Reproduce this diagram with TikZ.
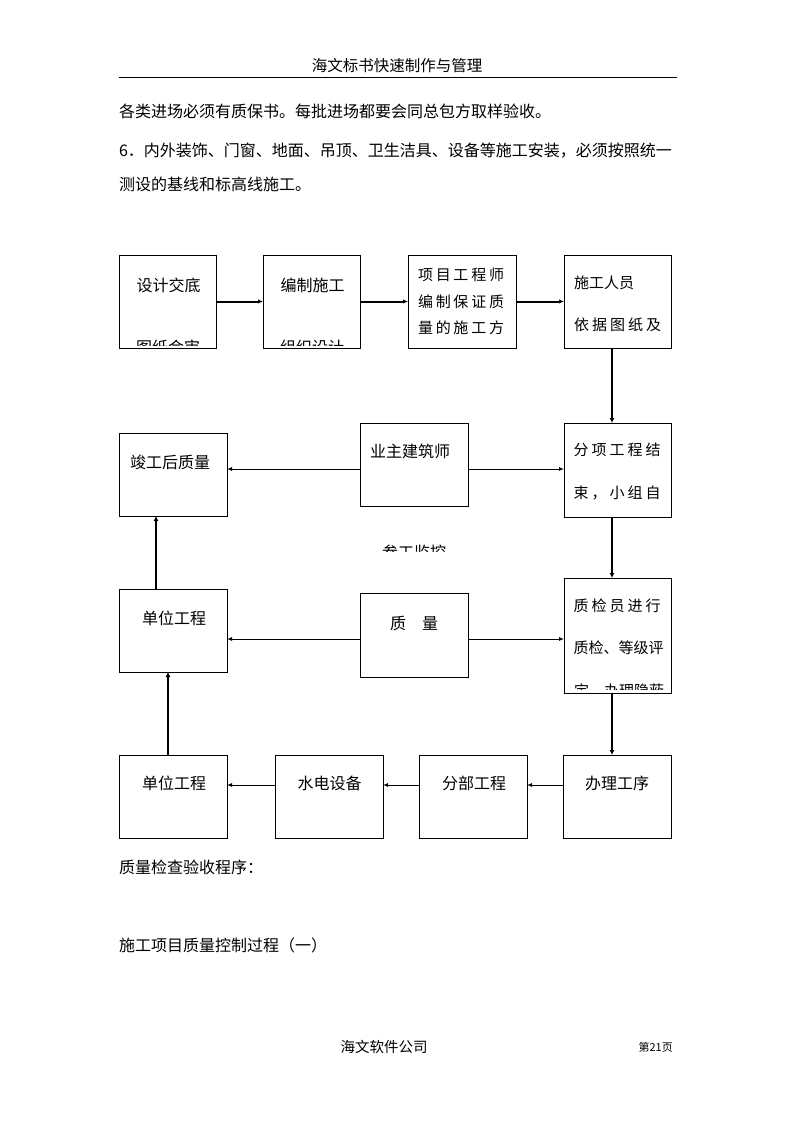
\documentclass[tikz,border=0pt]{standalone}
\usepackage{fontspec}
\setmainfont{Noto Sans CJK SC}
\usetikzlibrary{arrows.meta}
\def\spreadchars#1{\spreadA#1\relax}
\def\spreadA#1#2{#1\ifx\relax#2\else\hfill\expandafter\spreadA\expandafter#2\fi}
\newcommand\sprd[2]{\makebox[#1pt][l]{\spreadchars{#2}}}
\begin{document}
\begin{tikzpicture}[x=1pt,y=-1pt,
  box/.style={draw, line width=0.9pt, inner sep=0, outer sep=0, anchor=north west},
  txt/.style={inner sep=0, outer sep=0, font=\fontsize{16}{18}\selectfont},
  stxt/.style={inner sep=0, outer sep=0, font=\fontsize{15}{17}\selectfont},
  thk/.style={line width=2pt, -{Latex[length=5pt,width=4.5pt]}},
  thn/.style={line width=0.9pt, -{Latex[length=5pt,width=4pt]}},
  vtk/.style={line width=2.2pt, -{Latex[length=5pt,width=5pt]}}]
\useasboundingbox (0,0) rectangle (794,1123);

% header
\node[inner sep=0, font=\fontsize{15.5}{17}\selectfont] (hd) at (397,66) {海文标书快速制作与管理};
\coordinate (hl1) at (119,77);
\coordinate (hl2) at (677,77);
\draw[line width=0.9pt] (hl1) -- (hl2);

% body text
\node[txt, anchor=west] (t1) at (119,111) {各类进场必须有质保书。每批进场都要会同总包方取样验收。};
\node[txt, anchor=west] (t2) at (119,151) {6．内外装饰、门窗、地面、吊顶、卫生洁具、设备等施工安装，必须按照统一};
\node[txt, anchor=west] (t3) at (119,184) {测设的基线和标高线施工。};

% boxes
\newcommand\bx[5]{\node[box, minimum width={#4-#2}, minimum height={#5-#3}] (#1) at (#2,#3) {};}
\bx{b1}{119}{255}{216}{348}
\bx{b2}{263}{255}{360}{348}
\bx{b3}{408}{255}{516}{348}
\bx{b4}{564}{255}{671}{348}
\bx{m1}{119}{433}{227}{516}
\bx{m2}{360}{423}{468}{506}
\bx{m3}{564}{423}{671}{517}
\bx{n1}{119}{589}{227}{672}
\bx{n2}{360}{593}{468}{677}
\bx{n3}{564}{578}{671}{693}
\bx{p1}{119}{755}{227}{838}
\bx{p2}{275}{755}{383}{838}
\bx{p3}{419}{755}{527}{838}
\bx{p4}{563}{755}{671}{838}

% box texts
\node[txt] (b1a) at (168.5,285) {设计交底};
\begin{scope}
  \clip (120,256) rectangle (215,345);
  \node[txt] (b1b) at (168,347) {图纸会审};
\end{scope}
\node[txt] (b2a) at (312.5,285) {编制施工};
\begin{scope}
  \clip (264,256) rectangle (359,345);
  \node[txt] (b2b) at (312,347) {组织设计};
\end{scope}
\node[stxt, anchor=west] (b3a) at (418,275) {\sprd{86}{项目工程师}};
\node[stxt, anchor=west] (b3b) at (418,302) {\sprd{86}{编制保证质}};
\node[stxt, anchor=west] (b3c) at (418,328) {\sprd{86}{量的施工方}};
\node[stxt, anchor=west] (b4a) at (574,283) {施工人员};
\node[stxt, anchor=west] (b4b) at (574,325) {\sprd{87}{依据图纸及}};

\node[txt] (m1a) at (170,462) {竣工后质量};
\node[txt] (m2a) at (410,451) {业主建筑师};
\node[stxt, anchor=west] (m3a) at (573.5,450) {\sprd{87}{分项工程结}};
\node[stxt, anchor=west] (m3b) at (573.5,493) {\sprd{87}{束，小组自}};
\begin{scope}
  \clip (370,530) rectangle (460,551.5);
  \node[txt] (mc) at (414,552) {参工监控};
\end{scope}

\node[txt] (n1a) at (174,618) {单位工程};
\node[txt] (n2a) at (414,623) {质　量};
\node[stxt, anchor=west] (n3a) at (573.5,606) {\sprd{87}{质检员进行}};
\node[stxt, anchor=west] (n3b) at (573.5,648) {质检、等级评};
\begin{scope}
  \clip (565,670) rectangle (670,689.5);
  \node[stxt, anchor=west] (n3c) at (574,691) {\sprd{88}{定，办理隐蔽}};
\end{scope}

\node[txt] (p1a) at (174,783) {单位工程};
\node[txt] (p2a) at (329.5,783) {水电设备};
\node[txt] (p3a) at (474,783) {分部工程};
\node[txt] (p4a) at (617,783) {办理工序};

% connectors
\coordinate (vx) at (612,0);
\coordinate (cx1) at (156,0);
\coordinate (cx2) at (168,0);
\coordinate (r2) at (0,469);
\coordinate (r3) at (0,639);
\coordinate (r4) at (0,785);
\draw[thk] (b1.east) -- (b2.west);
\draw[thk] (b2.east) -- (b3.west);
\draw[thk] (b3.east) -- (b4.west);
\draw[vtk] (b4.south -| vx) -- (m3.north -| vx);
\draw[thn] (m2.west |- r2) -- (m1.east |- r2);
\draw[thn] (m2.east |- r2) -- (m3.west |- r2);
\draw[vtk] (m3.south -| vx) -- (n3.north -| vx);
\draw[thn] (n2.west |- r3) -- (n1.east |- r3);
\draw[thn] (n2.east |- r3) -- (n3.west |- r3);
\draw[vtk] (n1.north -| cx1) -- (m1.south -| cx1);
\draw[vtk] (n3.south -| vx) -- (p4.north -| vx);
\draw[thn] (p4.west |- r4) -- (p3.east |- r4);
\draw[thn] (p3.west |- r4) -- (p2.east |- r4);
\draw[thn] (p2.west |- r4) -- (p1.east |- r4);
\draw[vtk] (p1.north -| cx2) -- (n1.south -| cx2);

% lower texts
\node[txt, anchor=west] (q1) at (119,867) {质量检查验收程序：};
\node[txt, anchor=west] (q2) at (119,945) {施工项目质量控制过程（一）};
\node[inner sep=0, font=\fontsize{14.5}{16}\selectfont] (ft) at (384,1047) {海文软件公司};
\node[inner sep=0, anchor=east, font=\fontsize{11}{13}\selectfont] (pg) at (673,1047) {第21页};
\end{tikzpicture}
\end{document}
